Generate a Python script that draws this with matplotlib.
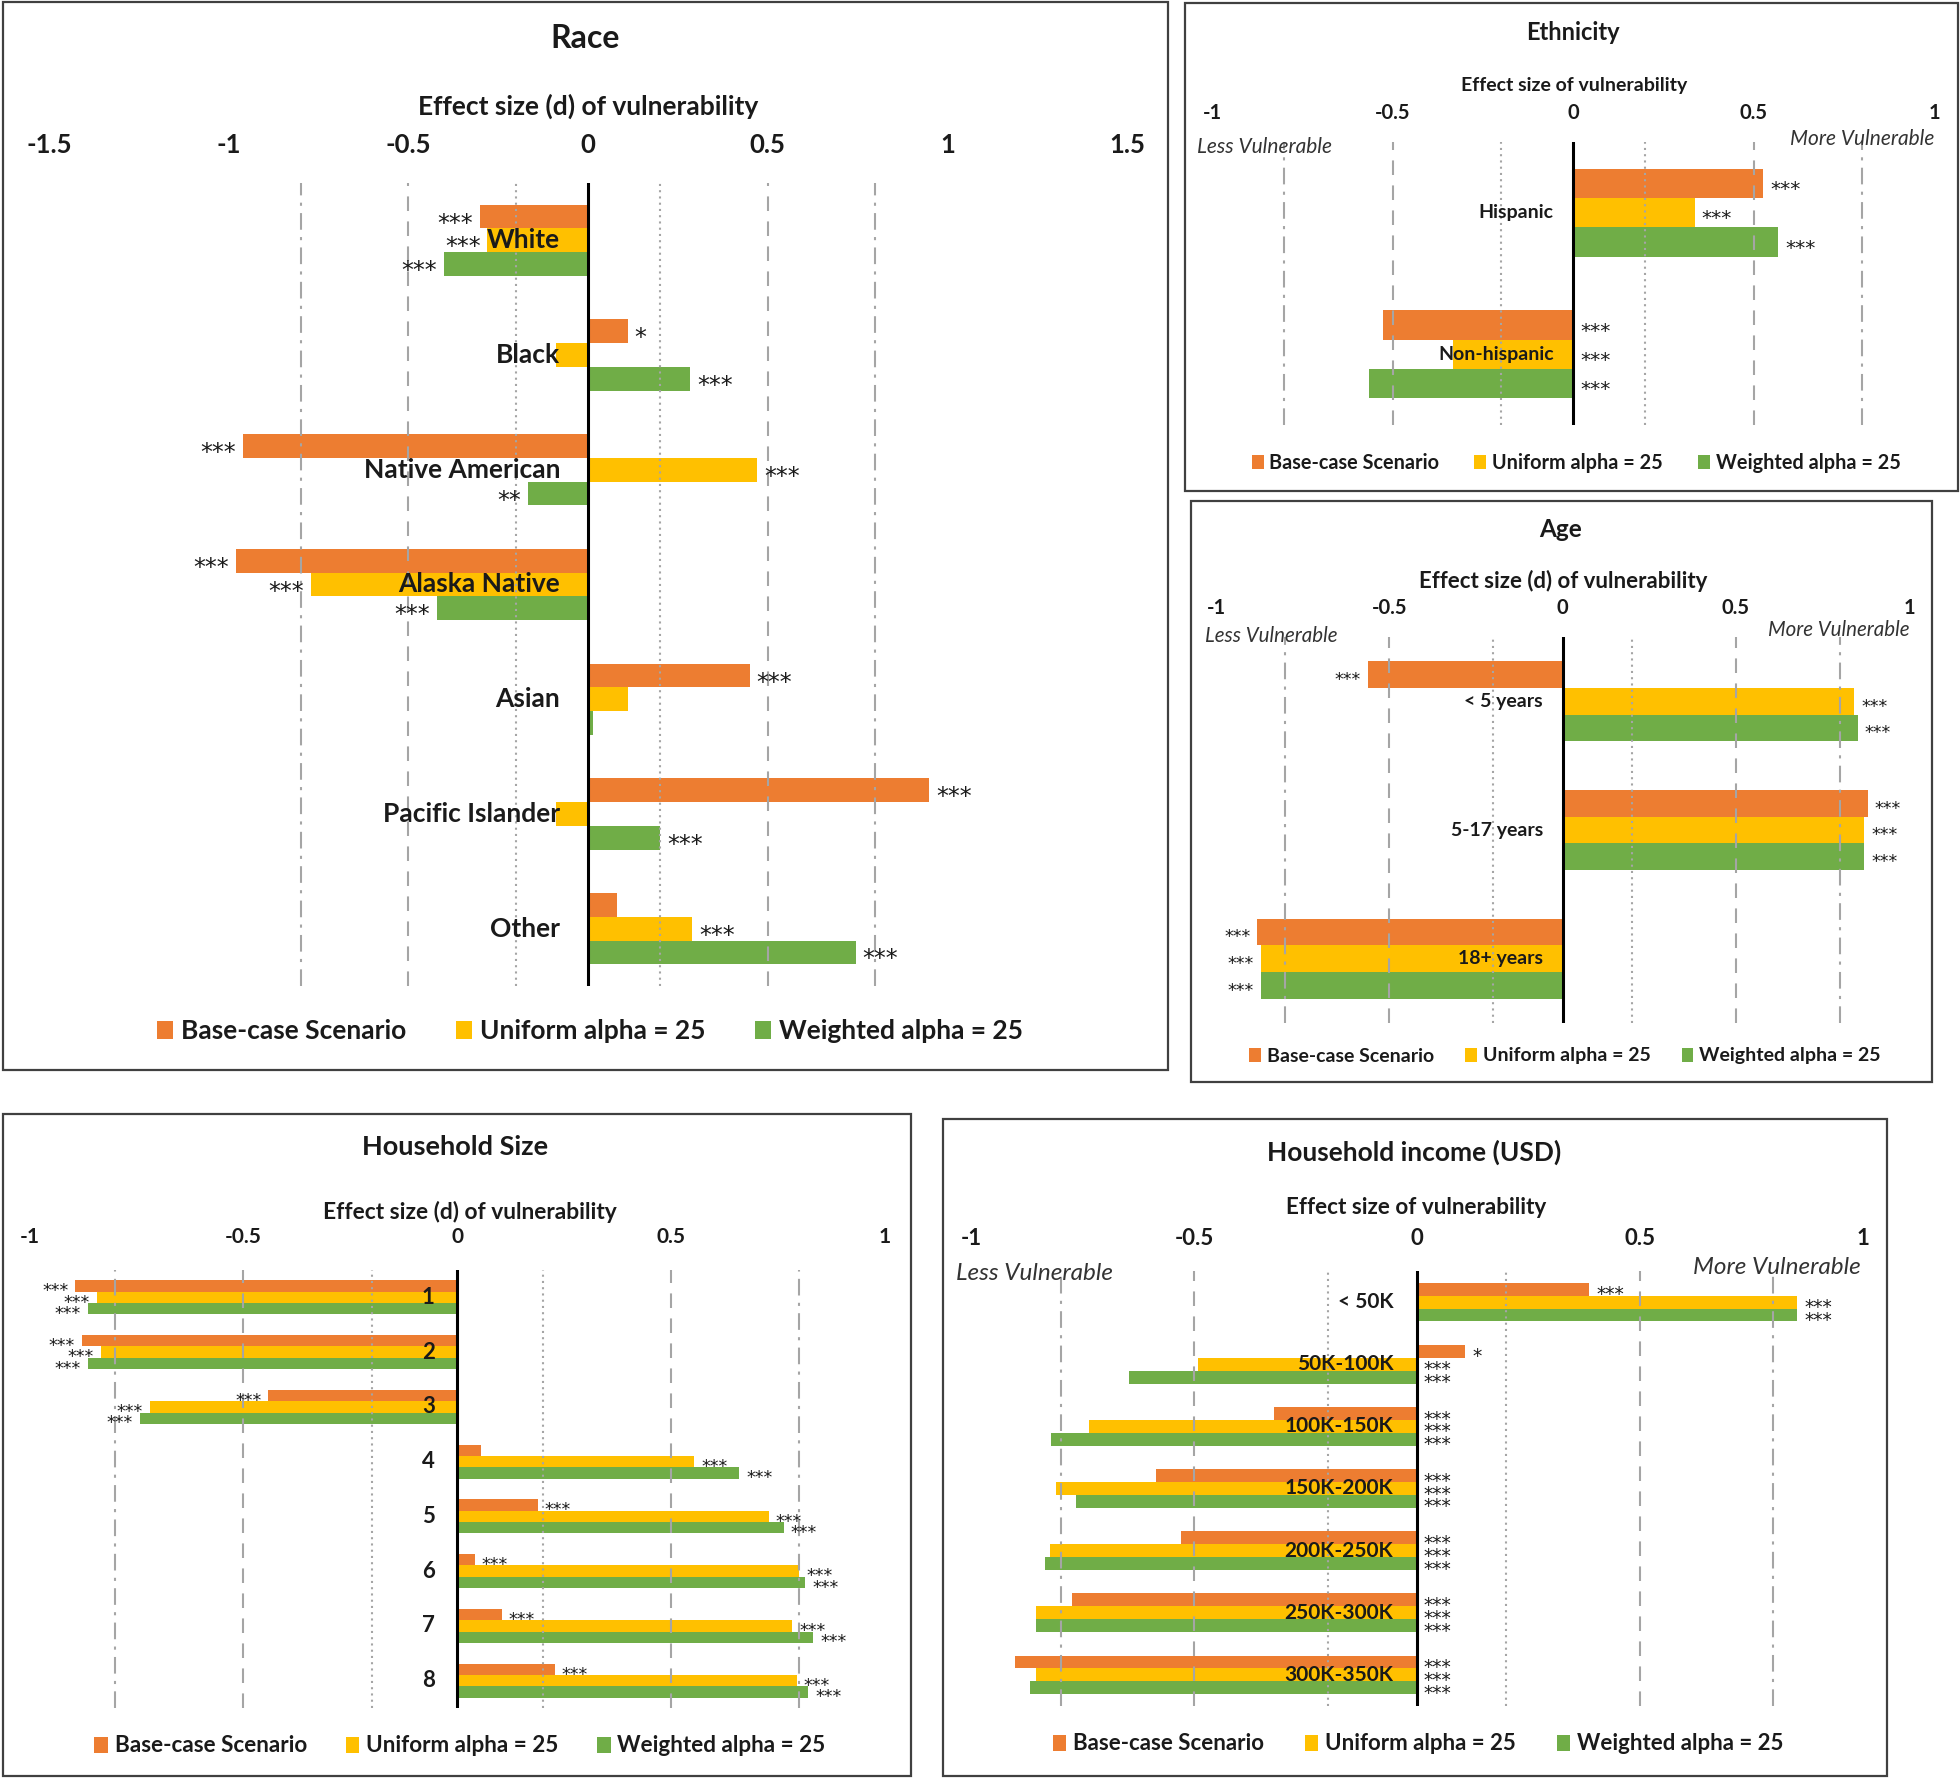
import numpy as np
import matplotlib
matplotlib.use("Agg")
import matplotlib.pyplot as plt
from matplotlib.patches import Patch, Rectangle

W, H = 1960, 1778

plt.rcParams["font.family"] = ["Lato", "DejaVu Sans"]
plt.rcParams["text.color"] = "#1a1a1a"

ORANGE, YELLOW, GREEN = "#ED7D31", "#FFC000", "#70AD47"
COLORS = [ORANGE, YELLOW, GREEN]
GRID = "#A5A5A5"
SERIES = ["Base-case Scenario", "Uniform alpha = 25", "Weighted alpha = 25"]

# ---- Race
RACE_CATS = ["White", "Black", "Native American", "Alaska Native", "Asian",
             "Pacific Islander", "Other"]
RACE_BASE = [-0.30, 0.11, -0.96, -0.98, 0.45, 0.95, 0.08]
RACE_UNIF = [-0.28, -0.09, 0.47, -0.77, 0.11, -0.09, 0.29]
RACE_WGT = [-0.40, 0.285, -0.167, -0.42, 0.015, 0.20, 0.745]
RACE_SIG_BASE = ["***", "*", "***", "***", "***", "***", ""]
RACE_SIG_UNIF = ["***", "", "***", "***", "", "", "***"]
RACE_SIG_WGT = ["***", "***", "**", "***", "", "***", "***"]

# ---- Ethnicity
ETH_CATS = ["Hispanic", "Non-hispanic"]
ETH_BASE = [0.527, -0.525]
ETH_UNIF = [0.337, -0.333]
ETH_WGT = [0.568, -0.564]
ETH_SIG_BASE = ["***", "***"]
ETH_SIG_UNIF = ["***", "***"]
ETH_SIG_WGT = ["***", "***"]

# ---- Age
AGE_CATS = ["< 5 years", "5-17 years", "18+ years"]
AGE_BASE = [-0.561, 0.881, -0.881]
AGE_UNIF = [0.842, 0.871, -0.871]
AGE_WGT = [0.852, 0.871, -0.871]
AGE_SIG_BASE = ["***", "***", "***"]
AGE_SIG_UNIF = ["***", "***", "***"]
AGE_SIG_WGT = ["***", "***", "***"]

# ---- Household size
HH_CATS = ["1", "2", "3", "4", "5", "6", "7", "8"]
HH_BASE = [-0.893, -0.877, -0.441, 0.055, 0.189, 0.041, 0.105, 0.229]
HH_UNIF = [-0.842, -0.833, -0.719, 0.555, 0.729, 0.801, 0.784, 0.795]
HH_WGT = [-0.863, -0.863, -0.742, 0.660, 0.764, 0.815, 0.833, 0.822]
HH_SIG_BASE = ["***", "***", "***", "", "***", "***", "***", "***"]
HH_SIG_UNIF = ["***"] * 8
HH_SIG_WGT = ["***"] * 8

# ---- Household income
INC_CATS = ["< 50K", "50K-100K", "100K-150K", "150K-200K", "200K-250K",
            "250K-300K", "300K-350K"]
INC_BASE = [0.387, 0.108, -0.321, -0.585, -0.530, -0.774, -0.902]
INC_UNIF = [0.853, -0.492, -0.737, -0.810, -0.823, -0.855, -0.855]
INC_WGT = [0.853, -0.647, -0.822, -0.766, -0.835, -0.855, -0.869]
INC_SIG_BASE = ["***", "*", "***", "***", "***", "***", "***"]
INC_SIG_UNIF = ["***"] * 7
INC_SIG_WGT = ["***"] * 7

# small / medium / large effect reference lines
REF_LINES = [(0.2, (0, (1, 2))), (0.5, (0, (7, 5))), (0.8, (0, (8, 3.5, 1.5, 3.5)))]


def fx(x):
    return x / W


def fy(y):
    return 1 - y / H


def add_box(fig, x0, y0, x1, y1):
    fig.add_artist(Rectangle((fx(x0), fy(y1)), (x1 - x0) / W, (y1 - y0) / H,
                             transform=fig.transFigure, fill=False,
                             edgecolor="#404040", linewidth=1.6))


def draw_panel(fig, cats, values, sigs, cfg):
    add_box(fig, *cfg["box"])
    x0, y0, x1, y1 = cfg["axes"]
    ax = fig.add_axes([fx(x0), fy(y1), (x1 - x0) / W, (y1 - y0) / H])
    ax.patch.set_alpha(0)

    n = len(cats)
    ypos = np.arange(n)
    h = 0.207
    sfs = cfg["star_fs"]
    for k, (vals, sg, col) in enumerate(zip(values, sigs, COLORS)):
        yy = ypos + (k - 1) * h
        ax.barh(yy, vals, height=h, color=col, zorder=2)
        for yi, v, s in zip(yy, vals, sg):
            if not s:
                continue
            if v < 0 and not cfg.get("stars_at_axis", False):
                xa, dx, ha = v, -5, "right"
            elif v < 0:
                xa, dx, ha = 0, 5, "left"
            else:
                xa, dx, ha = v, 5, "left"
            ax.annotate(s, (xa, yi), xytext=(dx, -0.3 * sfs), textcoords="offset points",
                        ha=ha, va="center", fontsize=sfs, family="DejaVu Sans",
                        color="#1a1a1a", zorder=6)

    for val, ls in REF_LINES:
        for sgn in (-1, 1):
            ax.axvline(sgn * val, color=GRID, linestyle=ls, linewidth=1.5, zorder=3)
    ax.axvline(0, color="black", linewidth=2.2, zorder=4)

    for i, c in enumerate(cats):
        ax.annotate(c, (0, i), xytext=(-cfg["label_off"], 0), textcoords="offset points",
                    ha="right", va="center", fontsize=cfg["label_fs"],
                    fontweight="bold", zorder=7)

    ax.set_xlim(cfg["xlim"])
    ax.set_ylim(n - 0.5, -0.5)
    ax.set_xticks(cfg["ticks"])
    ax.set_xticklabels([f"{t:g}" for t in cfg["ticks"]], fontweight="bold")
    ax.xaxis.tick_top()
    ax.tick_params(axis="x", length=0, pad=cfg["tick_pad"], labelsize=cfg["tick_fs"],
                   labelcolor="#1a1a1a")
    ax.set_yticks([])
    for sp in ax.spines.values():
        sp.set_visible(False)

    tx, ty = cfg["title_xy"]
    fig.text(fx(tx), fy(ty), cfg["title"], ha="center", va="center",
             fontsize=cfg["title_fs"], fontweight="bold")
    lx, ly = cfg["xlabel_xy"]
    fig.text(fx(lx), fy(ly), cfg["xlabel"], ha="center", va="center",
             fontsize=cfg["xlabel_fs"], fontweight="bold")

    if "less_xy" in cfg:
        ex, ey = cfg["less_xy"]
        fig.text(fx(ex), fy(ey), "Less Vulnerable", ha="left", va="center",
                 fontsize=cfg["italic_fs"], style="italic", color="#333333")
        mx, my = cfg["more_xy"]
        fig.text(fx(mx), fy(my), "More Vulnerable", ha="right", va="center",
                 fontsize=cfg["italic_fs"], style="italic", color="#333333")

    handles = [Patch(facecolor=c, label=s) for c, s in zip(COLORS, SERIES)]
    gx, gy = cfg["legend_xy"]
    fig.legend(handles=handles, loc="center", bbox_to_anchor=(fx(gx), fy(gy)),
               ncol=3, frameon=False,
               handlelength=0.6, handleheight=0.7, handletextpad=0.3,
               columnspacing=cfg["colspace"], borderaxespad=0,
               prop={"weight": "bold", "size": cfg["legend_fs"]})
    return ax


def main():
    fig = plt.figure(figsize=(W / 100, H / 100), dpi=100)

    draw_panel(fig, RACE_CATS, [RACE_BASE, RACE_UNIF, RACE_WGT],
               [RACE_SIG_BASE, RACE_SIG_UNIF, RACE_SIG_WGT], dict(
                   box=(3, 2, 1168, 1070), axes=(49, 183, 1127, 986),
                   xlim=(-1.5, 1.5), ticks=[-1.5, -1, -0.5, 0, 0.5, 1, 1.5],
                   title="Race", title_xy=(585, 38), title_fs=23,
                   xlabel="Effect size (d) of vulnerability", xlabel_xy=(588, 106),
                   xlabel_fs=19, tick_fs=18.5, tick_pad=19, label_fs=19, label_off=20,
                   star_fs=17, legend_xy=(590, 1031), legend_fs=19, colspace=1.9))

    draw_panel(fig, ETH_CATS, [ETH_BASE, ETH_UNIF, ETH_WGT],
               [ETH_SIG_BASE, ETH_SIG_UNIF, ETH_SIG_WGT], dict(
                   box=(1185, 3, 1958, 491), axes=(1212, 142, 1934, 425),
                   xlim=(-1, 1), ticks=[-1, -0.5, 0, 0.5, 1],
                   title="Ethnicity", title_xy=(1573, 33), title_fs=17,
                   xlabel="Effect size of vulnerability", xlabel_xy=(1574, 86),
                   xlabel_fs=14, tick_fs=14.5, tick_pad=13.5, label_fs=14, label_off=14,
                   star_fs=14.5, stars_at_axis=True, legend_xy=(1576, 463),
                   legend_fs=14.3, colspace=1.75, less_xy=(1197, 147),
                   more_xy=(1934, 139), italic_fs=15))

    draw_panel(fig, AGE_CATS, [AGE_BASE, AGE_UNIF, AGE_WGT],
               [AGE_SIG_BASE, AGE_SIG_UNIF, AGE_SIG_WGT], dict(
                   box=(1191, 501, 1932, 1082), axes=(1216, 637, 1909, 1023),
                   xlim=(-1, 1), ticks=[-1, -0.5, 0, 0.5, 1],
                   title="Age", title_xy=(1561, 529), title_fs=17.5,
                   xlabel="Effect size (d) of vulnerability", xlabel_xy=(1563, 581),
                   xlabel_fs=16, tick_fs=14.5, tick_pad=13.5, label_fs=14, label_off=14,
                   star_fs=12.5, legend_xy=(1565, 1056), legend_fs=14, colspace=1.6,
                   less_xy=(1205, 636), more_xy=(1909, 630), italic_fs=14.8))

    draw_panel(fig, HH_CATS, [HH_BASE, HH_UNIF, HH_WGT],
               [HH_SIG_BASE, HH_SIG_UNIF, HH_SIG_WGT], dict(
                   box=(3, 1114, 911, 1776), axes=(29.5, 1270, 884.5, 1708),
                   xlim=(-1, 1), ticks=[-1, -0.5, 0, 0.5, 1],
                   title="Household Size", title_xy=(455, 1147), title_fs=19.5,
                   xlabel="Effect size (d) of vulnerability", xlabel_xy=(470, 1212),
                   xlabel_fs=16.4, tick_fs=15, tick_pad=16.5, label_fs=16, label_off=16,
                   star_fs=12.5, legend_xy=(460, 1746), legend_fs=16.2, colspace=1.73))

    draw_panel(fig, INC_CATS, [INC_BASE, INC_UNIF, INC_WGT],
               [INC_SIG_BASE, INC_SIG_UNIF, INC_SIG_WGT], dict(
                   box=(943, 1119, 1887, 1776), axes=(971.4, 1271, 1862.6, 1706),
                   xlim=(-1, 1), ticks=[-1, -0.5, 0, 0.5, 1],
                   title="Household income (USD)", title_xy=(1414, 1152), title_fs=19,
                   xlabel="Effect size of vulnerability", xlabel_xy=(1416, 1208),
                   xlabel_fs=16.2, tick_fs=16, tick_pad=15.5, label_fs=15, label_off=17,
                   star_fs=13.5, stars_at_axis=True, legend_xy=(1418, 1744),
                   legend_fs=16, colspace=1.85, less_xy=(956, 1273),
                   more_xy=(1861, 1267), italic_fs=17.5))

    fig.savefig("out.png", dpi=100, facecolor="white")


if __name__ == "__main__":
    main()
